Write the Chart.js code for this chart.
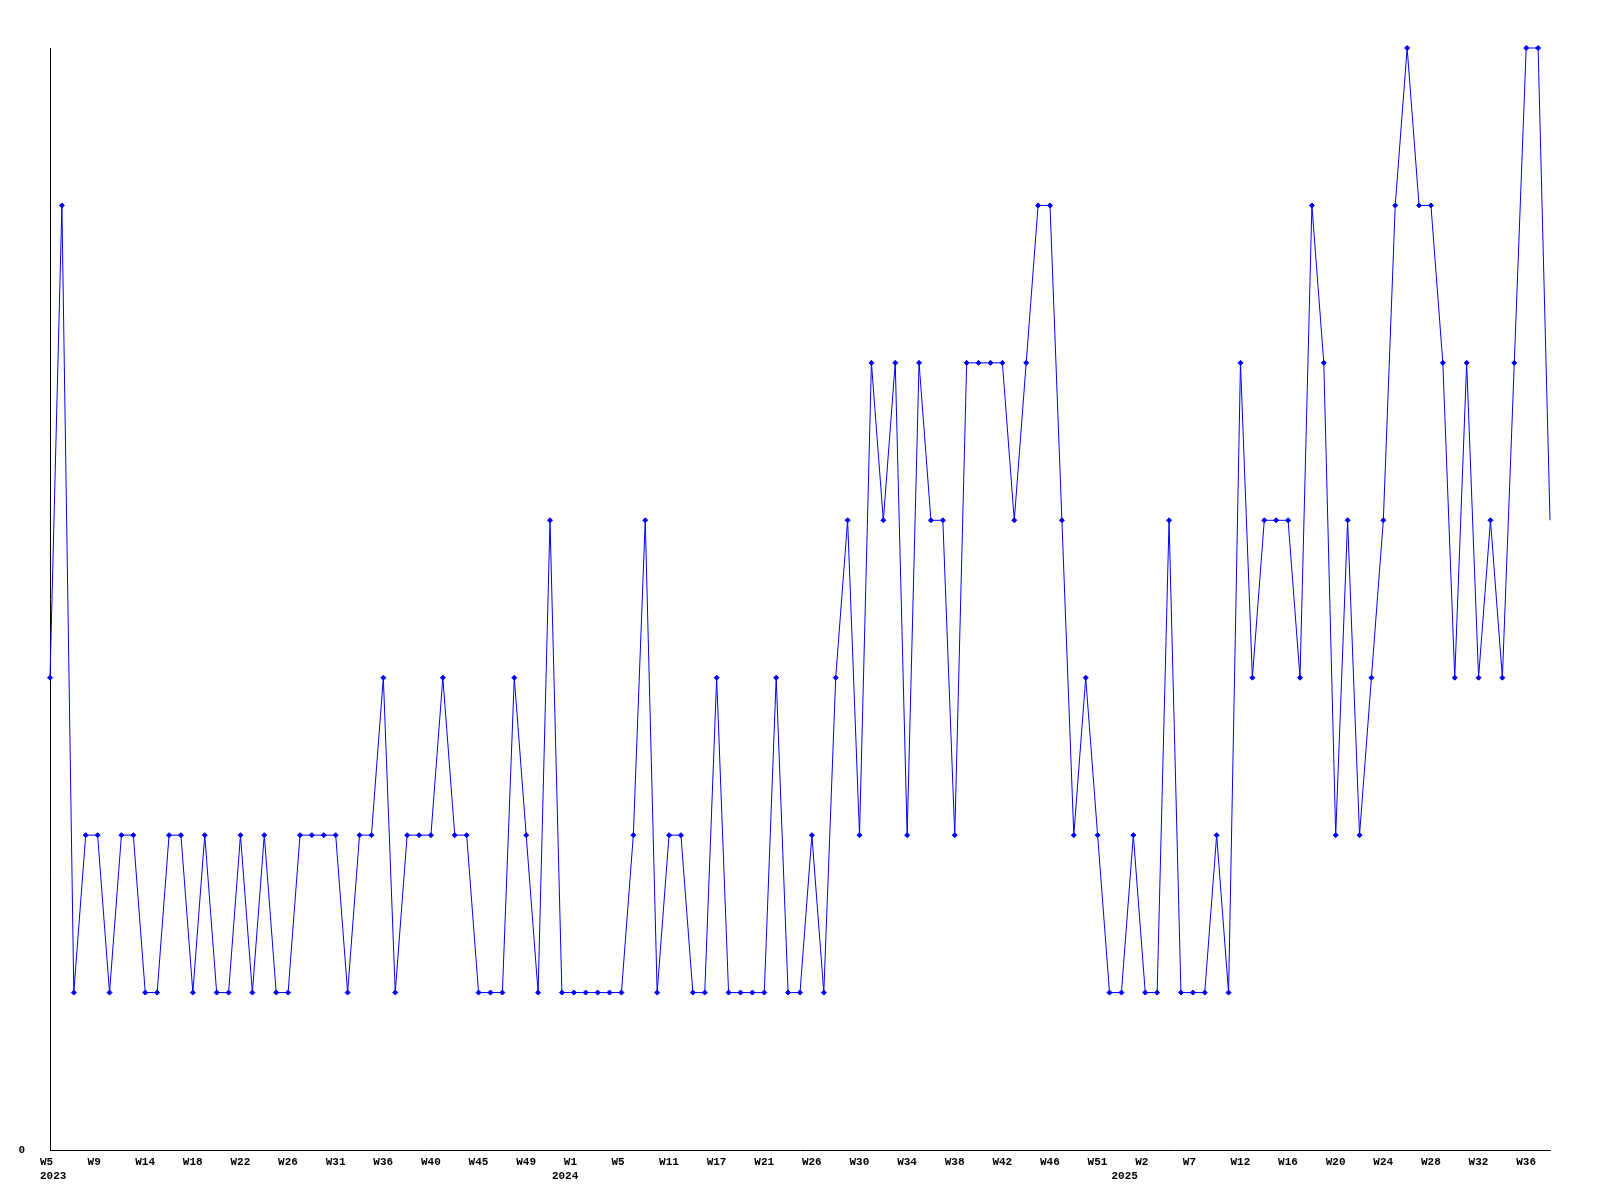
<!DOCTYPE html>
<html>
<head>
<meta charset="utf-8">
<script src="https://cdn.jsdelivr.net/npm/chart.js@4/dist/chart.umd.min.js"></script>
<style>
  body { margin: 0; background: #fff; }
  #wrap { width: 1600px; height: 1200px; }
</style>
</head>
<body>
<div id="wrap"><canvas id="weekChart" width="1600" height="1200"></canvas></div>
<script>
// week numbers per year (some weeks have no entry)
const weeks2023 = [5, 6, 7, 8, 9, 10, 11, 12, 14, 15, 16, 17, 18, 19, 20, 21, 22, 23, 24, 25, 26,
  27, 28, 29, 31, 32, 33, 34, 36, 37, 38, 39, 40, 41, 42, 43, 45, 46, 47, 48, 49, 50, 51]
const weeks2024 = [0, 1, 2, 3, 4, 5, 6, 8, 10, 11, 13, 14, 16, 17, 18, 19, 20, 21, 22, 23, 25, 26,
  27, 28, 29, 30, 31, 32, 33, 34, 35, 36, 37, 38, 39, 40, 41, 42, 43, 44, 45, 46, 47, 48, 50, 51, 52]
const weeks2025 = [0, 1, 2, 3, 4, 6, 7, 8, 9, 10, 12, 13, 14, 15, 16, 17, 18, 19, 20, 21, 22, 23, 24,
  25, 26, 27, 28, 29, 30, 31, 32, 33, 34, 35, 36, 37, 38]

const values2023 = [3, 6, 1, 2, 2, 1, 2, 2, 1, 1, 2, 2, 1, 2, 1, 1, 2, 1, 2, 1, 1,
  2, 2, 2, 2, 1, 2, 2, 3, 1, 2, 2, 2, 3, 2, 2, 1, 1, 1, 3, 2, 1, 4]
const values2024 = [1, 1, 1, 1, 1, 1, 2, 4, 1, 2, 2, 1, 1, 3, 1, 1, 1, 1, 3, 1, 1, 2,
  1, 3, 4, 2, 5, 4, 5, 2, 5, 4, 4, 2, 5, 5, 5, 5, 4, 5, 6, 6, 4, 2, 3, 2, 1]
const values2025 = [1, 2, 1, 1, 4, 1, 1, 1, 2, 1, 5, 3, 4, 4, 4, 3, 6, 5, 2, 4, 2, 3, 4,
  6, 7, 6, 6, 5, 3, 5, 3, 4, 3, 5, 7, 7, 4]

const labels = [
  ...weeks2023.map(w => '2023-W' + w),
  ...weeks2024.map(w => '2024-W' + w),
  ...weeks2025.map(w => '2025-W' + w)
]
const values = [...values2023, ...values2024, ...values2025]
const labelEvery = 4

Chart.defaults.font.family = "'Liberation Mono', 'DejaVu Sans Mono', monospace"
Chart.defaults.font.size = 11
Chart.defaults.font.weight = 'bold'
Chart.defaults.color = '#000'

const ctx = document.getElementById('weekChart')

new Chart(ctx, {
  type: 'line',
  data: {
    labels: labels,
    datasets: [{
      data: values,
      borderColor: '#0000ff',
      borderWidth: 1,
      tension: 0,
      fill: false,
      clip: false,
      pointStyle: 'rectRot',
      pointRadius: c => c.dataIndex === values.length - 1 ? 0 : 2.5,
      pointBackgroundColor: '#0000ff',
      pointBorderColor: '#0000ff',
      pointBorderWidth: 1
    }]
  },
  options: {
    responsive: false,
    animation: false,
    events: [],
    layout: { padding: { top: 48, right: 50, left: 0, bottom: 0 } },
    plugins: {
      legend: { display: false },
      tooltip: { enabled: false }
    },
    scales: {
      x: {
        type: 'category',
        offset: false,
        grid: { display: false, drawTicks: false },
        border: { display: true, color: '#000', width: 1 },
        afterFit: s => { s.height = 50 },
        ticks: {
          autoSkip: false,
          maxRotation: 0,
          minRotation: 0,
          align: 'start',
          labelOffset: -10,
          padding: 6,
          callback: (val, i) => {
            const [year, wk] = labels[i].split('-')
            const newYear = i === 0 || labels[i - 1].split('-')[0] !== year
            const showWeek = i % labelEvery === 0
            if (!showWeek && !newYear) return null
            if (newYear) return [showWeek ? wk : '', year]
            return wk
          }
        }
      },
      y: {
        min: 0,
        max: 7,
        grid: { display: false, drawTicks: false },
        border: { display: true, color: '#000', width: 1 },
        afterFit: s => { s.width = 50 },
        ticks: {
          stepSize: 1,
          padding: 25,
          callback: v => v === 0 ? '0' : null
        }
      }
    }
  }
})
</script>
</body>
</html>
